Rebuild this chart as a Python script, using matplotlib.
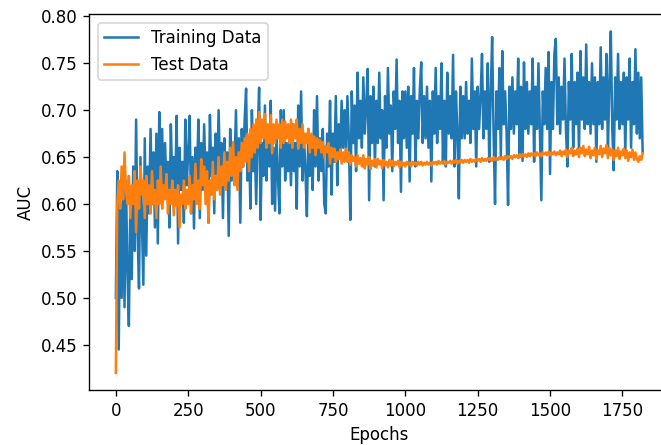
"""
Training / test AUC per epoch.
Values read off the reference picture, one value every 5 epochs.
"""
import numpy as np
import matplotlib
matplotlib.use('Agg')
import matplotlib.pyplot as plt

# training AUC, epochs 0..1820 step 5
train_a = [0.50, 0.635, 0.445, 0.60, 0.50, 0.62, 0.49, 0.625, 0.53, 0.47,
           0.60, 0.52, 0.64, 0.55, 0.69, 0.57, 0.51, 0.65, 0.58, 0.514,
           0.67, 0.545, 0.64, 0.59, 0.68, 0.60, 0.655, 0.575, 0.675, 0.558]
train_b = [0.698, 0.62, 0.68, 0.605, 0.665, 0.615, 0.645, 0.575, 0.685, 0.62,
           0.65, 0.61, 0.694, 0.558, 0.66, 0.615, 0.645, 0.58, 0.69, 0.62,
           0.655, 0.694, 0.59, 0.65, 0.574, 0.66, 0.62, 0.69, 0.585, 0.665]
train_c = [0.615, 0.685, 0.625, 0.655, 0.58, 0.695, 0.63, 0.66, 0.59, 0.675,
           0.62, 0.70, 0.635, 0.665, 0.585, 0.67, 0.63, 0.655, 0.566, 0.68,
           0.625, 0.665, 0.64, 0.70, 0.62, 0.67, 0.58, 0.68, 0.64, 0.69]
train_d = [0.723, 0.625, 0.665, 0.595, 0.70, 0.635, 0.66, 0.60, 0.675, 0.724,
           0.583, 0.665, 0.63, 0.705, 0.625, 0.67, 0.64, 0.71, 0.60, 0.66,
           0.593, 0.675, 0.63, 0.59, 0.70, 0.64, 0.70, 0.625, 0.665, 0.635]
train_e = [0.67, 0.62, 0.685, 0.635, 0.665, 0.595, 0.705, 0.64, 0.72, 0.625,
           0.67, 0.635, 0.587, 0.68, 0.63, 0.665, 0.615, 0.70, 0.64, 0.715,
           0.625, 0.67, 0.635, 0.68, 0.60, 0.59, 0.675, 0.64, 0.71, 0.61]
train_f = [0.675, 0.645, 0.715, 0.62, 0.685, 0.65, 0.71, 0.66, 0.70, 0.655,
           0.715, 0.67, 0.583, 0.72, 0.665, 0.705, 0.635, 0.74, 0.67, 0.71,
           0.66, 0.735, 0.675, 0.705, 0.744, 0.604, 0.715, 0.665, 0.725, 0.64]
train_g = [0.71, 0.665, 0.74, 0.67, 0.70, 0.604, 0.715, 0.66, 0.745, 0.675,
           0.705, 0.635, 0.72, 0.68, 0.754, 0.665, 0.71, 0.613, 0.72, 0.67,
           0.72, 0.66, 0.725, 0.624, 0.715, 0.675, 0.745, 0.64, 0.71, 0.67]
train_h = [0.72, 0.751, 0.665, 0.715, 0.67, 0.725, 0.66, 0.71, 0.624, 0.72,
           0.675, 0.745, 0.665, 0.715, 0.68, 0.75, 0.645, 0.71, 0.64, 0.74,
           0.675, 0.715, 0.67, 0.759, 0.64, 0.72, 0.675, 0.606, 0.725, 0.67]
train_i = [0.715, 0.67, 0.73, 0.675, 0.71, 0.665, 0.755, 0.68, 0.72, 0.64,
           0.725, 0.68, 0.715, 0.76, 0.67, 0.72, 0.68, 0.75, 0.645, 0.715,
           0.778, 0.675, 0.60, 0.72, 0.68, 0.745, 0.65, 0.763, 0.685, 0.72]
train_j = [0.675, 0.599, 0.725, 0.68, 0.735, 0.675, 0.72, 0.685, 0.755, 0.65,
           0.725, 0.646, 0.751, 0.68, 0.73, 0.675, 0.72, 0.685, 0.755, 0.645,
           0.725, 0.68, 0.75, 0.675, 0.604, 0.72, 0.685, 0.745, 0.68, 0.762]
train_k = [0.632, 0.73, 0.68, 0.76, 0.776, 0.685, 0.735, 0.675, 0.725, 0.69,
           0.755, 0.68, 0.64, 0.73, 0.69, 0.76, 0.66, 0.73, 0.685, 0.74,
           0.655, 0.763, 0.69, 0.735, 0.68, 0.77, 0.685, 0.73, 0.675, 0.75]
train_l = [0.685, 0.735, 0.645, 0.73, 0.685, 0.767, 0.68, 0.735, 0.69, 0.76,
           0.655, 0.73, 0.784, 0.68, 0.636, 0.735, 0.69, 0.76, 0.68, 0.73,
           0.685, 0.74, 0.655, 0.735, 0.69, 0.755, 0.66, 0.73, 0.685, 0.765]
train_m = [0.675, 0.74, 0.67, 0.735, 0.655]

# test AUC, epochs 0..1820 step 5
test_a = [0.42, 0.60, 0.625, 0.595, 0.64, 0.605, 0.655, 0.615, 0.60, 0.63,
          0.585, 0.62, 0.60, 0.635, 0.57, 0.625, 0.595, 0.64, 0.61, 0.625,
          0.585, 0.63, 0.60, 0.62, 0.59, 0.635, 0.60, 0.615, 0.585, 0.625]
test_b = [0.60, 0.64, 0.595, 0.62, 0.605, 0.632, 0.59, 0.615, 0.60, 0.625,
          0.588, 0.615, 0.598, 0.62, 0.575, 0.61, 0.60, 0.625, 0.595, 0.615,
          0.60, 0.63, 0.59, 0.62, 0.605, 0.643, 0.60, 0.625, 0.595, 0.648]
test_c = [0.62, 0.64, 0.60, 0.635, 0.58, 0.625, 0.61, 0.645, 0.605, 0.63,
          0.615, 0.65, 0.61, 0.64, 0.62, 0.655, 0.615, 0.645, 0.625, 0.66,
          0.63, 0.666, 0.62, 0.65, 0.615, 0.655, 0.635, 0.665, 0.64, 0.67]
test_d = [0.645, 0.675, 0.635, 0.68, 0.65, 0.685, 0.655, 0.69, 0.66, 0.698,
          0.665, 0.69, 0.67, 0.696, 0.66, 0.685, 0.665, 0.695, 0.654, 0.685,
          0.665, 0.69, 0.67, 0.685, 0.66, 0.69, 0.665, 0.688, 0.67, 0.685]
test_e = [0.665, 0.69, 0.66, 0.685, 0.67, 0.69, 0.659, 0.68, 0.665, 0.685,
          0.66, 0.675, 0.665, 0.68, 0.655, 0.675, 0.66, 0.672, 0.652, 0.67,
          0.66, 0.668, 0.655, 0.666, 0.65, 0.662, 0.655, 0.665, 0.643, 0.66]
test_f = [0.65, 0.659, 0.645, 0.655, 0.648, 0.658, 0.643, 0.655, 0.645, 0.659,
          0.645, 0.655, 0.642, 0.652, 0.646, 0.65, 0.64, 0.652, 0.643, 0.649,
          0.64, 0.652, 0.638, 0.648, 0.642, 0.65, 0.637, 0.646, 0.641, 0.648]
test_g = [0.639, 0.648, 0.642, 0.646, 0.638, 0.647, 0.641, 0.645, 0.639, 0.647,
          0.641, 0.646, 0.64, 0.645, 0.642, 0.646, 0.639, 0.645, 0.641, 0.644,
          0.64, 0.645, 0.642, 0.644, 0.64, 0.645, 0.642, 0.644, 0.641, 0.645]
test_h = [0.642, 0.645, 0.641, 0.644, 0.642, 0.645, 0.642, 0.644, 0.641, 0.645,
          0.643, 0.645, 0.642, 0.646, 0.643, 0.645, 0.643, 0.646, 0.642, 0.645,
          0.644, 0.646, 0.643, 0.646, 0.644, 0.647, 0.643, 0.646, 0.644, 0.647]
test_i = [0.644, 0.647, 0.645, 0.647, 0.644, 0.648, 0.645, 0.647, 0.645, 0.648,
          0.646, 0.648, 0.645, 0.649, 0.646, 0.648, 0.646, 0.649, 0.647, 0.649,
          0.646, 0.65, 0.647, 0.649, 0.647, 0.65, 0.648, 0.65, 0.647, 0.651]
test_j = [0.648, 0.651, 0.649, 0.651, 0.648, 0.652, 0.65, 0.652, 0.649, 0.653,
          0.65, 0.653, 0.651, 0.653, 0.65, 0.654, 0.651, 0.654, 0.652, 0.654,
          0.651, 0.655, 0.652, 0.654, 0.651, 0.655, 0.653, 0.655, 0.652, 0.656]
test_k = [0.652, 0.655, 0.653, 0.656, 0.652, 0.655, 0.653, 0.657, 0.651, 0.656,
          0.653, 0.658, 0.65, 0.657, 0.654, 0.66, 0.651, 0.657, 0.653, 0.659,
          0.65, 0.66, 0.654, 0.662, 0.651, 0.658, 0.653, 0.661, 0.649, 0.657]
test_l = [0.652, 0.66, 0.648, 0.657, 0.653, 0.662, 0.65, 0.659, 0.654, 0.663,
          0.649, 0.66, 0.652, 0.658, 0.647, 0.657, 0.651, 0.66, 0.648, 0.656,
          0.652, 0.659, 0.649, 0.657, 0.646, 0.655, 0.65, 0.658, 0.647, 0.655]
test_m = [0.648, 0.645, 0.651, 0.647, 0.654]

train_auc = (train_a + train_b + train_c + train_d + train_e + train_f + train_g
             + train_h + train_i + train_j + train_k + train_l + train_m)
test_auc = (test_a + test_b + test_c + test_d + test_e + test_f + test_g
            + test_h + test_i + test_j + test_k + test_l + test_m)

train_epochs = np.arange(len(train_auc)) * 5
test_epochs = np.arange(len(test_auc)) * 5

fig = plt.figure(figsize=(661 / 120, 445 / 120), dpi=120)
ax = fig.add_axes([0.1354, 0.1236, 0.8767, 0.8443])
ax.plot(train_epochs, train_auc, label='Training Data')
ax.plot(test_epochs, test_auc, label='Test Data')
ax.set_xlabel('Epochs')
ax.set_ylabel('AUC')
ax.legend(loc='upper left')
fig.savefig('out.png', dpi=120)
plt.close(fig)
